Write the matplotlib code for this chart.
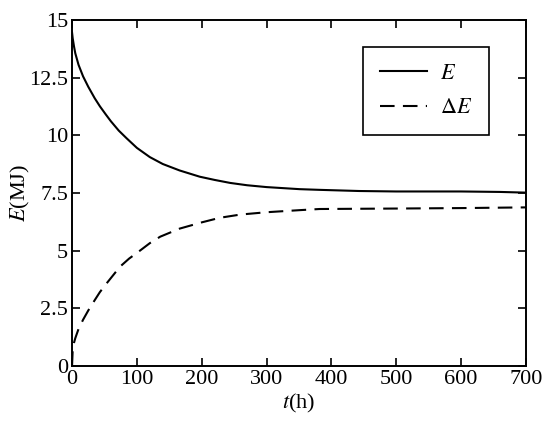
import matplotlib
matplotlib.use("Agg")
import matplotlib.pyplot as plt

plt.rcParams["font.family"] = ["Liberation Serif", "DejaVu Serif"]
plt.rcParams["mathtext.fontset"] = "stix"

#====================DATA====================

t_E = [0, 1, 3, 5, 10, 17, 25, 35, 43, 52, 60, 72, 84, 100, 120, 140, 166,
       197, 220, 244, 270, 300, 351, 382, 443, 500, 600, 660, 700]
E = [14.45, 14.2, 13.85, 13.55, 13.05, 12.55, 12.1, 11.6, 11.25, 10.9, 10.6,
     10.2, 9.87, 9.45, 9.05, 8.75, 8.47, 8.2, 8.06, 7.93, 7.83, 7.75, 7.66,
     7.63, 7.58, 7.56, 7.56, 7.54, 7.51]

t_dE = [0, 1, 3, 5, 10, 17, 25, 35, 43, 54, 64, 74, 88, 105, 120, 136, 166,
        200, 228, 260, 300, 351, 382, 500, 600, 700]
dE = [0.0, 0.7, 1.0, 1.2, 1.6, 2.0, 2.4, 2.85, 3.2, 3.6, 3.95, 4.3, 4.65, 5.0,
      5.32, 5.6, 5.95, 6.22, 6.42, 6.56, 6.66, 6.75, 6.8, 6.82, 6.84, 6.87]

x_ticks = [0, 100, 200, 300, 400, 500, 600, 700]
y_ticks = [0, 2.5, 5, 7.5, 10, 12.5, 15]
y_labels = ["0", "2.5", "5", "7.5", "10", "12.5", "15"]

#====================PLOT====================

fig = plt.figure(figsize=(5.5, 4.22), dpi=100)
ax = fig.add_axes([0.131, 0.133, 0.825, 0.82])

ax.plot(t_E, E, color="black", lw=1.5, label="$E$")
ax.plot(t_dE, dE, color="black", lw=1.5, dashes=(7, 4), label=r"$\Delta E$")

ax.set_xlim(0, 700)
ax.set_ylim(0, 15)
ax.set_xticks(x_ticks)
ax.set_yticks(y_ticks)
ax.set_yticklabels(y_labels)
ax.tick_params(direction="in", length=6, width=1.2, top=True, right=True,
               labelsize=16, pad=3)
for s in ax.spines.values():
    s.set_linewidth(1.4)

ax.set_xlabel("$t$(h)", fontsize=16, labelpad=2)
ax.set_ylabel("$E$(MJ)", fontsize=16, labelpad=-2)

leg = ax.legend(loc="upper right", bbox_to_anchor=(0.9185, 0.922), fontsize=16,
                fancybox=False, edgecolor="black", framealpha=1,
                handlelength=2.1, handletextpad=0.6, labelspacing=0.62,
                borderpad=0.75, borderaxespad=0)
leg.get_frame().set_linewidth(1.2)

plt.savefig("out.png")
